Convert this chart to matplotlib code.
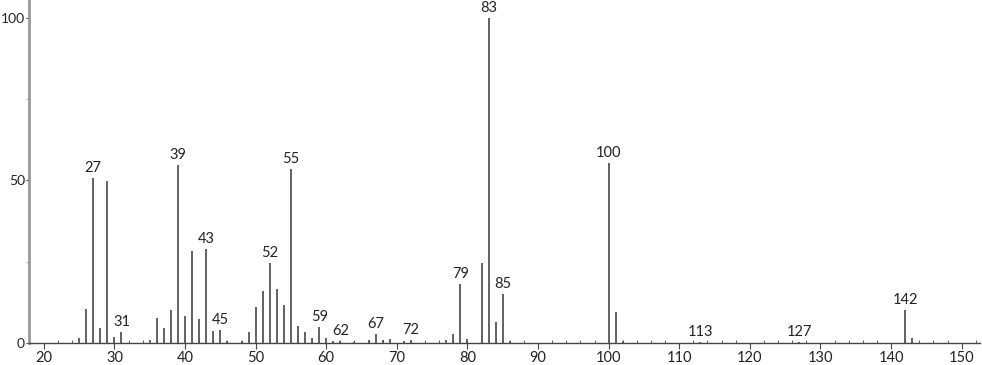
import numpy as np
import matplotlib
matplotlib.use("Agg")
import matplotlib.pyplot as plt
from matplotlib.ticker import MultipleLocator

plt.rcParams['font.family'] = ['Lato', 'DejaVu Sans']

# m/z and relative intensity
mz = [25, 26, 27, 28, 29, 30, 31, 35, 36, 37, 38, 39, 40, 41, 42, 43, 44, 45,
      46, 48, 49, 50, 51, 52, 53, 54, 55, 56, 57, 58, 59, 60, 61, 62, 64, 66,
      67, 68, 69, 71, 72, 77, 78, 79, 80, 82, 83, 84, 85, 86, 100, 101, 102,
      113, 127, 142, 143]
intensity = [1.5, 10.5, 50.8, 4.6, 49.8, 1.8, 3.4, 1.0, 7.7, 4.6, 10.2, 54.8,
             8.3, 28.3, 7.4, 28.9, 3.7, 4.0, 0.6, 0.6, 3.4, 11.0, 16.0, 24.6,
             16.6, 11.7, 53.5, 5.2, 3.4, 1.5, 4.9, 1.5, 0.6, 0.6, 0.3, 0.9,
             2.8, 0.9, 1.2, 0.6, 0.9, 0.9, 2.8, 18.0, 1.2, 24.7, 100.0, 6.6,
             15.1, 0.6, 55.4, 9.6, 0.6, 0.3, 0.3, 10.2, 1.6]
labelled = [27, 31, 39, 43, 45, 52, 55, 59, 62, 67, 72, 79, 83, 85, 100, 113,
            127, 142]

fig = plt.figure(figsize=(9.82, 3.65), dpi=100)
ax = fig.add_axes([29 / 982, 22 / 365, 951 / 982, 343 / 365])

ax.vlines(mz, 0, intensity, colors="#555555", linewidth=1.3)

for m, h in zip(mz, intensity):
    if m in labelled:
        ax.text(m, h + 1.0, str(m), ha="center", va="bottom", fontsize=10.5,
                color="#222222")

ax.set_xlim(17.9, 152.6)
ax.set_ylim(0, 105.5)

ax.spines["top"].set_visible(False)
ax.spines["right"].set_visible(False)
ax.spines["left"].set_color("#999999")
ax.spines["left"].set_linewidth(2)
ax.spines["bottom"].set_color("#444444")
ax.spines["bottom"].set_linewidth(1)

ax.xaxis.set_major_locator(MultipleLocator(10))
ax.xaxis.set_minor_locator(MultipleLocator(2))
ax.yaxis.set_major_locator(MultipleLocator(50))
ax.yaxis.set_minor_locator(MultipleLocator(25))
ax.tick_params(axis="x", which="major", direction="out", length=4, pad=2,
               labelsize=10.5, colors="#444444", labelcolor="#222222")
ax.tick_params(axis="x", which="minor", direction="in", length=2.5,
               colors="#444444")
ax.tick_params(axis="y", which="major", direction="out", length=2.5, pad=0.3,
               labelsize=10, colors="#444444", labelcolor="#222222")
ax.tick_params(axis="y", which="minor", direction="out", length=2,
               colors="#999999")

fig.savefig("out.png", dpi=100)
